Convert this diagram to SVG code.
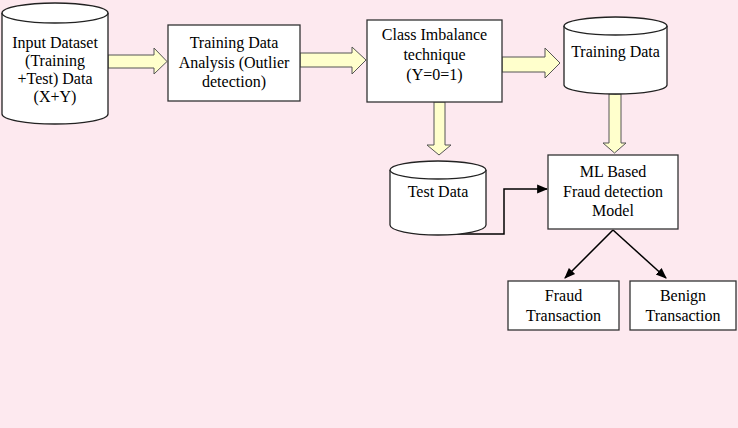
<svg xmlns="http://www.w3.org/2000/svg" width="738" height="428" viewBox="0 0 738 428">
<defs>
<style>
text{font-family:"Liberation Serif","Times New Roman",serif;font-size:16px;fill:#000;text-anchor:middle}
.box{fill:#fff;stroke:#333;stroke-width:1.3}
.cyl{fill:#fff;stroke:#222;stroke-width:1.3}
.blk{fill:#ffffcc;stroke:#555;stroke-width:1}
.ln{fill:none;stroke:#000;stroke-width:1.5}
</style>
<marker id="ah2" viewBox="0 0 10 10" refX="9" refY="5" markerWidth="11" markerHeight="11" markerUnits="userSpaceOnUse" orient="auto"><path d="M0,1 L10,5 L0,9 z" fill="#000"/></marker>
</defs>
<rect width="738" height="428" fill="#fde9ef"/>
<g id="connectors">
<path class="blk" d="M108,55 H154 V48 L167,61.5 L154,74 V68 H108 z"/>
<path class="blk" d="M300,53 H352 V47 L366,60 L352,74 V67 H300 z"/>
<path class="blk" d="M502,57 H545 V48 L560,63 L545,78 V72 H502 z"/>
<path class="blk" d="M434,102 V145 H427 L439,155 L451,145 H445 V102 z"/>
<path class="blk" d="M609,94 V143 H603 L614.5,153 L626,143 H621 V94 z"/>
<path class="ln" d="M437,234 H504 V189 H547" marker-end="url(#ah2)"/>
<path class="ln" d="M613,230 L565,278" marker-end="url(#ah2)"/>
<path class="ln" d="M613,230 L666,278" marker-end="url(#ah2)"/>
</g>
<g id="input-dataset">
<path class="cyl" d="M2,13 V114 A53,10 0 0 0 108,114 V13"/>
<ellipse class="cyl" cx="55" cy="13" rx="53" ry="10"/>
<text x="55" y="48">Input Dataset</text>
<text x="55" y="66">(Training</text>
<text x="55" y="84">+Test) Data</text>
<text x="55" y="102">(X+Y)</text>
</g>
<g id="training-analysis">
<rect class="box" x="168" y="25" width="132" height="76"/>
<text x="234" y="48">Training Data</text>
<text x="234" y="68">Analysis (Outlier</text>
<text x="234" y="87">detection)</text>
</g>
<g id="class-imbalance">
<rect class="box" x="367" y="20" width="135" height="82"/>
<text x="434.5" y="40">Class Imbalance</text>
<text x="434.5" y="60">technique</text>
<text x="434.5" y="80">(Y=0=1)</text>
</g>
<g id="training-data">
<path class="cyl" d="M564,26 V85 A51.5,9 0 0 0 667,85 V26"/>
<ellipse class="cyl" cx="615.5" cy="26" rx="51.5" ry="9"/>
<text x="615.5" y="57" font-size="15">Training Data</text>
</g>
<g id="test-data">
<path class="cyl" d="M390,170 V225 A48,10 0 0 0 486,225 V170"/>
<ellipse class="cyl" cx="438" cy="170" rx="48" ry="9"/>
<text x="438" y="197" font-size="15">Test Data</text>
</g>
<g id="ml-model">
<rect class="box" x="548" y="155" width="130" height="74"/>
<text x="613" y="177">ML Based</text>
<text x="613" y="197">Fraud detection</text>
<text x="613" y="216">Model</text>
</g>
<g id="fraud">
<rect class="box" x="508" y="281" width="111" height="49"/>
<text x="563.5" y="301">Fraud</text>
<text x="563.5" y="321">Transaction</text>
</g>
<g id="benign">
<rect class="box" x="630" y="281" width="106" height="49"/>
<text x="683" y="301">Benign</text>
<text x="683" y="321">Transaction</text>
</g>
</svg>
